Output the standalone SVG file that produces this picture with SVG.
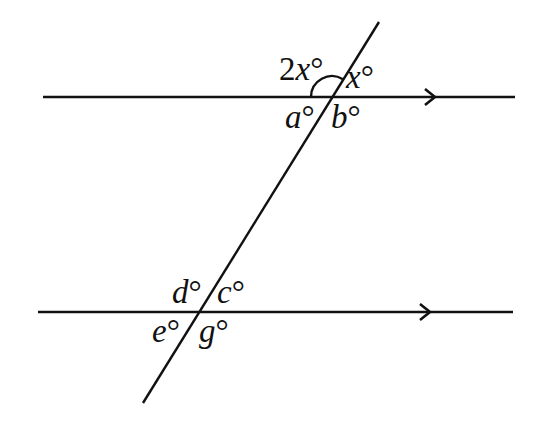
<svg xmlns="http://www.w3.org/2000/svg" width="554" height="428" viewBox="0 0 554 428">
<style>
.ln{stroke:#111;stroke-width:2.4;fill:none;stroke-linecap:butt}
.ah{stroke:#111;stroke-width:2.6;fill:none;stroke-linejoin:miter}
.lb{font-size:33px;fill:#111}
.v{font-style:italic}
</style>
<rect width="554" height="428" fill="#fff"/>
<g id="connectors">
<line id="line-top" class="ln" x1="43" y1="97" x2="515" y2="97"/>
<line id="line-bottom" class="ln" x1="38" y1="312" x2="513" y2="312"/>
<line id="transversal" class="ln" x1="379" y1="22" x2="143" y2="403"/>
<polyline class="ah" points="425,89 435,97 425,105"/>
<polyline class="ah" points="420,304 430,312 420,320"/>
<path class="ln" d="M311,97 A21,21 0 0 1 343,79.2"/>
</g>
<g id="labels" font-family="'Liberation Serif', 'Times New Roman', serif">
<g id="label-2x"><text class="lb" x="279" y="80">2<tspan class="v">x</tspan>°</text></g>
<g id="label-x"><text class="lb" x="346" y="88"><tspan class="v">x</tspan>°</text></g>
<g id="label-a"><text class="lb" x="285" y="128"><tspan class="v">a</tspan>°</text></g>
<g id="label-b"><text class="lb" x="331" y="128"><tspan class="v">b</tspan>°</text></g>
<g id="label-d"><text class="lb" x="172" y="303"><tspan class="v">d</tspan>°</text></g>
<g id="label-c"><text class="lb" x="217" y="303"><tspan class="v">c</tspan>°</text></g>
<g id="label-e"><text class="lb" x="152" y="342"><tspan class="v">e</tspan>°</text></g>
<g id="label-g"><text class="lb" x="199" y="342"><tspan class="v">g</tspan>°</text></g>
</g>
</svg>
